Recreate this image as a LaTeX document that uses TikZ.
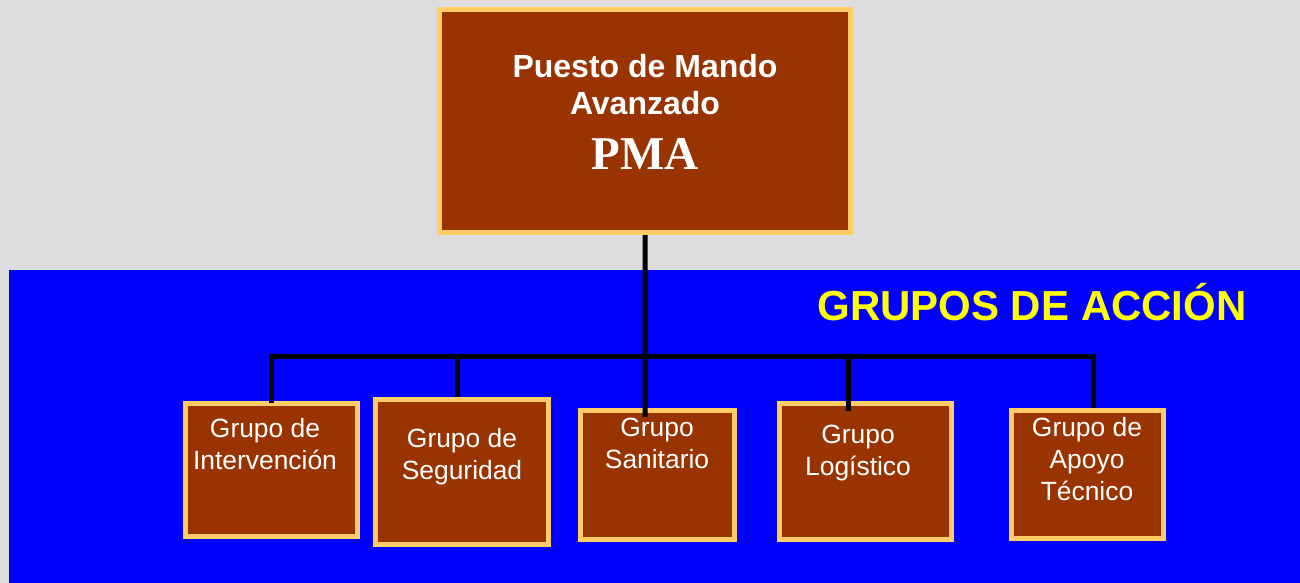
\documentclass[tikz,border=0pt]{standalone}
\usepackage{fontspec}
\setmainfont{Liberation Sans}
\newfontfamily\pmaserif{Liberation Serif}
\usetikzlibrary{calc}
\definecolor{bggray}{RGB}{221,221,221}
\definecolor{bgblue}{RGB}{0,0,255}
\definecolor{boxbrown}{RGB}{153,51,0}
\definecolor{boxedge}{RGB}{255,204,102}
\definecolor{titleyellow}{RGB}{255,255,0}
\tikzset{
  orgbox/.style={draw=boxedge, fill=boxbrown, line width=5bp, inner sep=0pt},
  grouptext/.style={text=white, align=center, inner sep=0pt, anchor=base,
    font=\fontsize{26.4bp}{32bp}\selectfont},
  link/.style={draw=black, line width=5bp, line join=miter},
}
\begin{document}
\begin{tikzpicture}[x=1bp, y=-1bp]
\useasboundingbox (0,0) rectangle (1300,583);
\fill[bggray] (0,0) rectangle (1300,583);
\fill[bgblue] (9,270) rectangle (1300,583);

% boxes
\node[orgbox, minimum width=411bp, minimum height=223bp] (pma) at (645,121) {};
\node[orgbox, minimum width=172.3bp, minimum height=133bp] (g1) at (271.3,470) {};
\node[orgbox, minimum width=172.7bp, minimum height=144.4bp] (g2) at (461.8,472) {};
\node[orgbox, minimum width=153.7bp, minimum height=129.3bp] (g3) at (657.3,475.2) {};
\node[orgbox, minimum width=172.3bp, minimum height=136.3bp] (g4) at (865.3,471.7) {};
\node[orgbox, minimum width=151.7bp, minimum height=127.4bp] (g5) at (1087.3,474.5) {};

% connectors
\coordinate (bus) at (645,356);
\coordinate (e1) at ($(g1.north)+(0.4,1.7)$);
\coordinate (e2) at ($(g2.north)+(-4,0)$);
\coordinate (e3) at ($(g3.north)+(-12.1,8.7)$);
\coordinate (e4) at ($(g4.north)+(-16.8,10)$);
\coordinate (e5) at ($(g5.north)+(6.2,0)$);
\draw[link] (pma.south) -- (e3);
\draw[link] (e1) -- (e1 |- bus) -- (e5 |- bus) -- (e5);
\draw[link] (e2) -- (e2 |- bus);
\draw[link] (e4) -- (e4 |- bus);

% texts (anchor=base is the baseline of the last line)
\node[text=white, align=center, inner sep=0pt, anchor=base,
  font=\fontsize{32bp}{37bp}\selectfont\bfseries] (pmatext) at (645,170)
  {Puesto de Mando\\Avanzado\\[18bp]{\pmaserif\fontsize{47bp}{50bp}\selectfont\bfseries PMA}};
\node[text=titleyellow, inner sep=0pt, anchor=base,
  font=\fontsize{42bp}{48bp}\selectfont\bfseries] (title) at (1032,320) {GRUPOS DE ACCIÓN};
\node[grouptext] (t1) at (265,469) {Grupo de\\Intervención};
\node[grouptext] (t2) at (462,479) {Grupo de\\Seguridad};
\node[grouptext] (t3) at (657,468) {Grupo\\Sanitario};
\node[grouptext] (t4) at (858,475) {Grupo\\Logístico};
\node[grouptext] (t5) at (1087,500.7) {Grupo de\\Apoyo\\Técnico};
\end{tikzpicture}
\end{document}
